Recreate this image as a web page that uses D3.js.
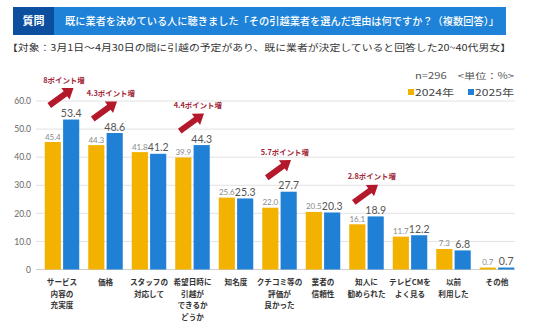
<!DOCTYPE html>
<html><head><meta charset="utf-8">
<script src="https://cdn.jsdelivr.net/npm/d3@7"></script>
<style>
html,body{margin:0;padding:0;background:#fff;}
svg{display:block;}
</style></head>
<body>
<svg id="chart" width="536" height="326"></svg>
<script>
const categories = [
  ["サービス","内容の","充実度"],
  ["価格"],
  ["スタッフの","対応して"],
  ["希望日時に","引越が","できるか","どうか"],
  ["知名度"],
  ["クチコミ等の","評価が","良かった"],
  ["業者の","信頼性"],
  ["知人に","勧められた"],
  ["テレビCMを","よく見る"],
  ["以前","利用した"],
  ["その他"]
];
const series = ["2024年","2025年"];
const values2024 = [45.4,44.3,41.8,39.9,25.6,22.0,20.5,16.1,11.7,7.3,0.7];
const values2025 = [53.4,48.6,41.2,44.3,25.3,27.7,20.3,18.9,12.2,6.8,0.7];
const yTicks = [0,10,20,30,40,50,60];
const annotations = [
  {cat:0, text:"8ポイント増"},
  {cat:1, text:"4.3ポイント増"},
  {cat:3, text:"4.4ポイント増"},
  {cat:5, text:"5.7ポイント増"},
  {cat:7, text:"2.8ポイント増"}
];
const titleTag = "質問";
const titleText = "既に業者を決めている人に聴きました「その引越業者を選んだ理由は何ですか？（複数回答）」";
const subtitle = "【対象：3月1日～4月30日の間に引越の予定があり、既に業者が決定していると回答した20~40代男女】";
const noteText = "n=296　<単位：%>";

const colors = ["#f4b200","#1f80d6"];
const JP = "'Noto Sans CJK JP','Noto Sans',sans-serif";
const NUM = "Lato,'Noto Sans',sans-serif";

const svg = d3.select("#chart");

// header
svg.append("rect").attr("x",13).attr("y",7).attr("width",493).attr("height",28).attr("fill","#1d82d8");
svg.append("rect").attr("x",13).attr("y",7).attr("width",41).attr("height",28).attr("fill","#0c4f9e");
svg.append("text").attr("x",33.5).attr("y",25).attr("text-anchor","middle")
  .attr("font-family",JP).attr("font-size",11).attr("font-weight","bold").attr("fill","#fff").text(titleTag);
svg.append("text").attr("x",65).attr("y",25).attr("textLength",434).attr("lengthAdjust","spacingAndGlyphs")
  .attr("font-family",JP).attr("font-size",10.5).attr("font-weight",500).attr("fill","#fff").text(titleText);
svg.append("text").attr("x",7).attr("y",50.5).attr("textLength",504).attr("lengthAdjust","spacingAndGlyphs")
  .attr("font-family",JP).attr("font-size",9).attr("fill","#333").text(subtitle);
svg.append("text").attr("x",415).attr("y",79).attr("textLength",99).attr("lengthAdjust","spacingAndGlyphs")
  .attr("font-family",JP).attr("font-size",8.5).attr("fill","#555").text(noteText);

// legend
const legX = [408,468];
series.forEach((s,i)=>{
  svg.append("rect").attr("x",legX[i]).attr("y",89).attr("width",6).attr("height",6).attr("fill",colors[i]);
  svg.append("text").attr("x",legX[i]+7).attr("y",95.5).attr("textLength",39).attr("lengthAdjust","spacingAndGlyphs")
    .attr("font-family",JP).attr("font-size",9).attr("fill","#444").text(s);
});

// scales
const y = d3.scaleLinear().domain([0,60]).range([269.5,101]);
const x0 = d3.scaleBand().domain(d3.range(categories.length)).range([40.25,518.75]).padding(0);
const x1 = d3.scaleBand().domain(series).range([4.5,39]).paddingInner(0.12);

// grid
svg.append("g").selectAll("line").data(yTicks).join("line")
  .attr("x1",36).attr("x2",515).attr("y1",d=>y(d)).attr("y2",d=>y(d))
  .attr("stroke",d=>d===0?"#cfcfcf":"#e2e2e2").attr("stroke-width",1);

// y axis
const yAxis = d3.axisLeft(y).tickValues(yTicks).tickSize(0).tickPadding(0)
  .tickFormat(d=>d===0?"0":d3.format(".1f")(d));
const ga = svg.append("g").attr("transform","translate(31,0)").call(yAxis);
ga.select(".domain").remove();
ga.selectAll("text").attr("font-family",NUM).attr("font-size",8.5).attr("fill","#666");

// bars
const data = categories.map((c,i)=>({i, vals:[values2024[i],values2025[i]]}));
const groups = svg.append("g").selectAll("g").data(data).join("g")
  .attr("transform",d=>`translate(${x0(d.i)},0)`);
groups.selectAll("rect").data(d=>d.vals.map((v,k)=>({k,v}))).join("rect")
  .attr("x",d=>x1(series[d.k])).attr("width",x1.bandwidth())
  .attr("y",d=>y(d.v)).attr("height",d=>y(0)-y(d.v))
  .attr("fill",d=>colors[d.k]);
groups.selectAll("text.val").data(d=>d.vals.map((v,k)=>({k,v}))).join("text")
  .attr("class","val")
  .attr("x",d=>x1(series[d.k])+x1.bandwidth()/2)
  .attr("y",d=>y(d.v)-2.5)
  .attr("text-anchor","middle")
  .attr("font-family",NUM)
  .attr("font-size",d=>d.k===0?8:10.5)
  .attr("fill",d=>d.k===0?"#8a8a8a":"#555")
  .text(d=>d3.format(".1f")(d.v));

// category labels
groups.each(function(d){
  const g = d3.select(this);
  categories[d.i].forEach((line,j)=>{
    g.append("text").attr("x",x0.bandwidth()/2).attr("y",285+j*11.5)
      .attr("text-anchor","middle").attr("font-family",JP).attr("font-size",7.6)
      .attr("font-weight","bold").attr("fill","#333").text(line);
  });
});

// annotations
const arrowCol = "#b3192b";
const L = 30, ang = -36;
annotations.forEach(a=>{
  const bx = x0(a.cat);
  const top = y(values2025[a.cat]);
  const tx = bx+9, ty = top-14;
  const sw = 3, hw = 7, hl = 10;
  const pts = [[0,-sw],[L-hl,-sw],[L-hl,-hw],[L,0],[L-hl,hw],[L-hl,sw],[0,sw]];
  svg.append("polygon")
    .attr("points",pts.map(p=>p.join(",")).join(" "))
    .attr("transform",`translate(${tx},${ty}) rotate(${ang})`)
    .attr("fill",arrowCol);
  svg.append("text").attr("x",bx+3).attr("y",top-37)
    .attr("font-family",JP).attr("font-size",7.4).attr("font-weight","bold")
    .attr("fill","#a3283a").text(a.text);
});
</script>
</body></html>
